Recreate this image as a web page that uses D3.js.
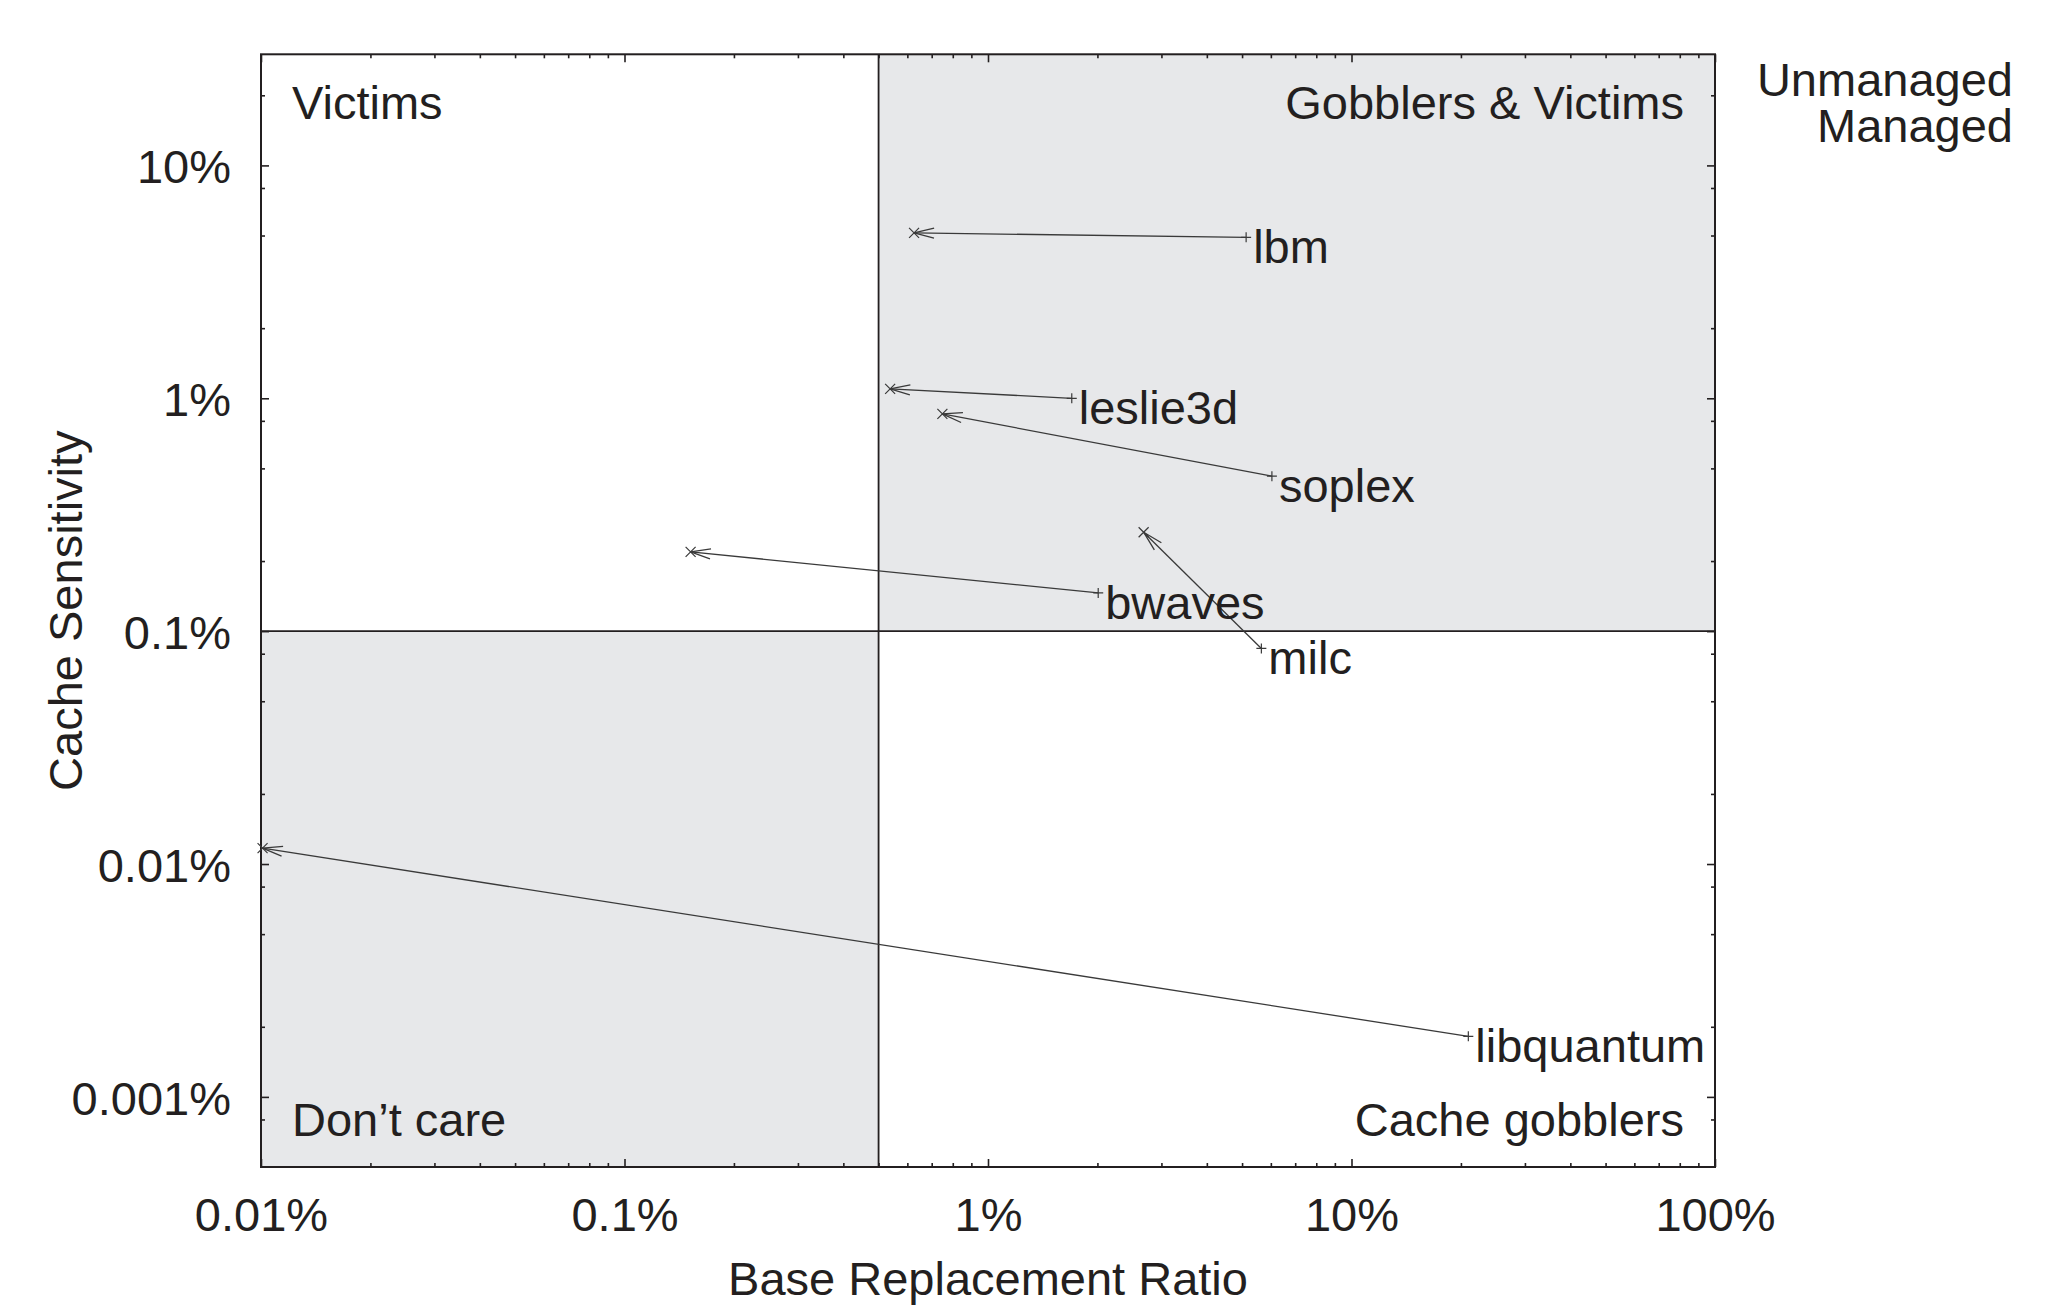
<!DOCTYPE html>
<html>
<head>
<meta charset="utf-8">
<script src="https://cdn.jsdelivr.net/npm/d3@7"></script>
<style>
  html, body { margin: 0; padding: 0; background: #fff; }
  svg { display: block; }
  text { font-family: "Liberation Sans", Arial, Helvetica, sans-serif; fill: #231f20; }
</style>
</head>
<body>
<svg id="chart" width="2060" height="1306"></svg>
<script>
// Benchmarks: base replacement ratio (%) and cache sensitivity (%),
// unmanaged cache (arrow tail, "+") vs managed cache (arrow head, "x").
const benchmarks      = ["lbm", "leslie3d", "soplex", "bwaves", "milc", "libquantum"];
const unmanagedRatio  = [5.13, 1.70, 6.04, 2.01, 5.65, 20.96];
const unmanagedSens   = [4.91, 1.00, 0.463, 0.146, 0.0843, 0.00182];
const managedRatio    = [0.626, 0.538, 0.749, 0.152, 2.68, 0.0101];
const managedSens     = [5.13, 1.097, 0.857, 0.219, 0.266, 0.0117];

// Quadrant thresholds and corner names
const ratioThreshold = 0.5;
const sensThreshold  = 0.1;
const quadrantNames  = ["Victims", "Gobblers & Victims", "Don\u2019t care", "Cache gobblers"];
const legendNames    = ["Unmanaged", "Managed"];

// Axis ticks
const xMajorTicks = [0.01, 0.1, 1, 10, 100];
const xTickLabels = ["0.01%", "0.1%", "1%", "10%", "100%"];
const yMajorTicks = [0.001, 0.01, 0.1, 1, 10];
const yTickLabels = ["0.001%", "0.01%", "0.1%", "1%", "10%"];
const xMinorSteps = [2, 3, 4, 5, 6, 7, 8, 9];
const yMinorSteps = [2, 5, 8];

const xTitle = "Base Replacement Ratio";
const yTitle = "Cache Sensitivity";

// ---------------------------------------------------------------
const ink = "#231f20";
const shade = "#e7e8ea";
const plotL = 261, plotR = 1715, plotT = 54.3, plotB = 1167;

const svg = d3.select("#chart");

const x = d3.scaleLog().domain([0.01, 100]).range([plotL, plotR]);
const y = d3.scaleLog().domain([0.0005, 30]).range([plotB, plotT]);

function minors(domain, steps) {
  const out = [];
  const lo = Math.floor(Math.log10(domain[0])) - 1, hi = Math.ceil(Math.log10(domain[1]));
  for (let e = lo; e <= hi; e++) {
    for (const s of steps) {
      const v = s * Math.pow(10, e);
      if (v > domain[0] * 1.0001 && v < domain[1] * 0.9999) out.push(+v.toPrecision(6));
    }
  }
  return out;
}
const xMinor = minors(x.domain(), xMinorSteps);
const yMinor = minors(y.domain(), yMinorSteps);

// Shaded quadrants
svg.append("rect")
  .attr("x", x(ratioThreshold)).attr("y", y(y.domain()[1]))
  .attr("width", x(x.domain()[1]) - x(ratioThreshold))
  .attr("height", y(sensThreshold) - y(y.domain()[1]))
  .attr("fill", shade);
svg.append("rect")
  .attr("x", x(x.domain()[0])).attr("y", y(sensThreshold))
  .attr("width", x(ratioThreshold) - x(x.domain()[0]))
  .attr("height", y(y.domain()[0]) - y(sensThreshold))
  .attr("fill", shade);

// Quadrant dividers
svg.append("line")
  .attr("x1", x(ratioThreshold)).attr("x2", x(ratioThreshold))
  .attr("y1", y(y.domain()[0])).attr("y2", y(y.domain()[1]))
  .attr("stroke", ink).attr("stroke-width", 1.8);
svg.append("line")
  .attr("x1", x(x.domain()[0])).attr("x2", x(x.domain()[1]))
  .attr("y1", y(sensThreshold)).attr("y2", y(sensThreshold))
  .attr("stroke", ink).attr("stroke-width", 1.8);

// Axes: inward ticks on all four sides
function styleAxis(g) {
  g.select(".domain").remove();
  g.selectAll(".tick line").attr("stroke", ink).attr("stroke-width", 1.6);
  g.selectAll(".tick text").attr("fill", ink)
    .style("font-family", '"Liberation Sans", Arial, Helvetica, sans-serif')
    .style("font-size", "47px");
}

svg.append("g").attr("transform", `translate(0,${plotB})`)
  .call(d3.axisBottom(x).tickValues(xMajorTicks)
    .tickFormat((d, i) => xTickLabels[i]).tickSizeInner(-8).tickSizeOuter(0).tickPadding(31))
  .call(styleAxis);
svg.append("g").attr("transform", `translate(0,${plotB})`)
  .call(d3.axisBottom(x).tickValues(xMinor).tickFormat("").tickSizeInner(-4).tickSizeOuter(0))
  .call(styleAxis);
svg.append("g").attr("transform", `translate(0,${plotT})`)
  .call(d3.axisTop(x).tickValues(xMajorTicks).tickFormat("").tickSizeInner(-8).tickSizeOuter(0))
  .call(styleAxis);
svg.append("g").attr("transform", `translate(0,${plotT})`)
  .call(d3.axisTop(x).tickValues(xMinor).tickFormat("").tickSizeInner(-4).tickSizeOuter(0))
  .call(styleAxis);

const yAxisG = svg.append("g").attr("transform", `translate(${plotL},0)`)
  .call(d3.axisLeft(y).tickValues(yMajorTicks)
    .tickFormat((d, i) => yTickLabels[i]).tickSizeInner(-8).tickSizeOuter(0).tickPadding(30))
  .call(styleAxis);
yAxisG.selectAll(".tick text").attr("dy", "0.37em");
svg.append("g").attr("transform", `translate(${plotL},0)`)
  .call(d3.axisLeft(y).tickValues(yMinor).tickFormat("").tickSizeInner(-4).tickSizeOuter(0))
  .call(styleAxis);
svg.append("g").attr("transform", `translate(${plotR},0)`)
  .call(d3.axisRight(y).tickValues(yMajorTicks).tickFormat("").tickSizeInner(-8).tickSizeOuter(0))
  .call(styleAxis);
svg.append("g").attr("transform", `translate(${plotR},0)`)
  .call(d3.axisRight(y).tickValues(yMinor).tickFormat("").tickSizeInner(-4).tickSizeOuter(0))
  .call(styleAxis);

// Plot frame
svg.append("rect")
  .attr("x", plotL).attr("y", plotT)
  .attr("width", plotR - plotL).attr("height", plotB - plotT)
  .attr("fill", "none").attr("stroke", ink).attr("stroke-width", 2);

// Open arrowhead
svg.append("defs").append("marker")
  .attr("id", "head")
  .attr("markerUnits", "userSpaceOnUse")
  .attr("viewBox", "-22 -7 24 14")
  .attr("markerWidth", 24).attr("markerHeight", 14)
  .attr("refX", 0).attr("refY", 0)
  .attr("orient", "auto")
  .append("path")
  .attr("d", "M-20,-5L0,0L-20,5")
  .attr("fill", "none").attr("stroke", "#3a3a3a").attr("stroke-width", 1.3);

const rows = benchmarks.map((name, i) => ({
  name,
  ur: unmanagedRatio[i], us: unmanagedSens[i],
  mr: managedRatio[i], ms: managedSens[i]
}));

const marks = svg.append("g");

// Arrows from unmanaged to managed
marks.selectAll("line.move").data(rows).join("line")
  .attr("class", "move")
  .attr("x1", d => x(d.ur)).attr("y1", d => y(d.us))
  .attr("x2", d => x(d.mr)).attr("y2", d => y(d.ms))
  .attr("stroke", "#3a3a3a").attr("stroke-width", 1.3)
  .attr("marker-end", "url(#head)");

// "+" for unmanaged
marks.selectAll("path.plus").data(rows).join("path")
  .attr("class", "plus")
  .attr("transform", d => `translate(${x(d.ur)},${y(d.us)})`)
  .attr("d", "M-5,0H5M0,-5V5")
  .attr("stroke", "#3a3a3a").attr("stroke-width", 1.2);

// "x" for managed
marks.selectAll("path.cross").data(rows).join("path")
  .attr("class", "cross")
  .attr("transform", d => `translate(${x(d.mr)},${y(d.ms)})`)
  .attr("d", "M-5,-5L5,5M-5,5L5,-5")
  .attr("stroke", "#3a3a3a").attr("stroke-width", 1.2);

// Benchmark names beside the unmanaged point
marks.selectAll("text.name").data(rows).join("text")
  .attr("class", "name")
  .attr("x", d => x(d.ur) + 7).attr("y", d => y(d.us) + 26)
  .attr("font-size", 47)
  .text(d => d.name);

// Quadrant names
const qfs = 47;
svg.append("text").attr("x", plotL + 31).attr("y", plotT + 65).attr("font-size", qfs).text(quadrantNames[0]);
svg.append("text").attr("x", plotR - 31).attr("y", plotT + 65).attr("font-size", qfs)
  .attr("text-anchor", "end").text(quadrantNames[1]);
svg.append("text").attr("x", plotL + 31).attr("y", plotB - 31).attr("font-size", qfs).text(quadrantNames[2]);
svg.append("text").attr("x", plotR - 31).attr("y", plotB - 31).attr("font-size", qfs)
  .attr("text-anchor", "end").text(quadrantNames[3]);

// Legend
legendNames.forEach((n, i) => {
  svg.append("text").attr("x", 2013).attr("y", 96 + i * 46)
    .attr("font-size", 47).attr("text-anchor", "end").text(n);
});

// Axis titles
svg.append("text")
  .attr("x", (plotL + plotR) / 2).attr("y", 1295)
  .attr("font-size", 47).attr("text-anchor", "middle").text(xTitle);
svg.append("text")
  .attr("transform", `translate(81.5,${(plotT + plotB) / 2}) rotate(-90)`)
  .attr("font-size", 47).attr("text-anchor", "middle").text(yTitle);
</script>
</body>
</html>
